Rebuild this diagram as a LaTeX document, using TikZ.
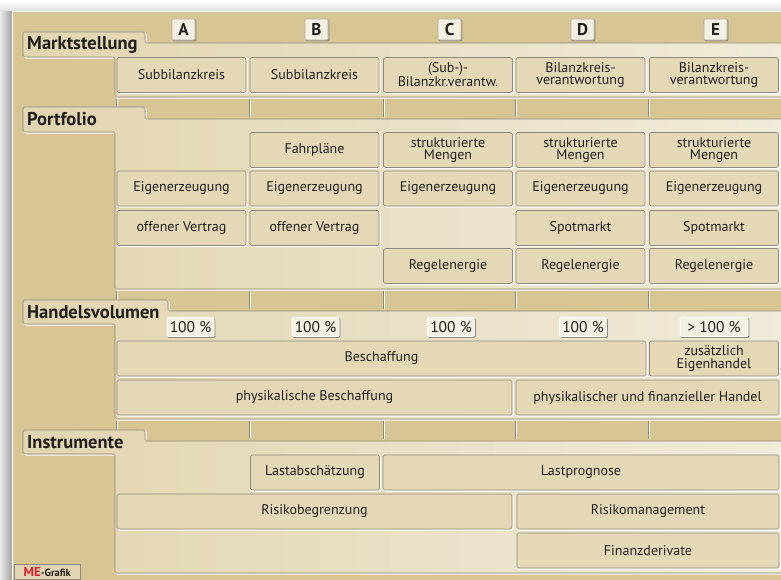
\documentclass[tikz,border=0pt]{standalone}
\usepackage{fontspec}
\setmainfont{PT Sans}
\definecolor{tan}{HTML}{D8C594}
\definecolor{creamL}{HTML}{E2D5B1}
\definecolor{creamR}{HTML}{F1EBDA}
\definecolor{cellfill}{HTML}{E4D8B7}
\definecolor{edge}{HTML}{8F897D}
\definecolor{ink}{HTML}{221E1C}
\definecolor{tagfill}{HTML}{F4F0E3}
\definecolor{mered}{HTML}{D8232A}

\begin{document}
\begin{tikzpicture}[
  x=1pt, y=-1pt,
  cell/.style={fill=cellfill, draw=edge, line width=0.6pt, rounded corners=1.5pt,
    minimum width=129pt, minimum height=35pt, inner sep=0pt, align=center,
    font=\fontsize{14}{12.8}\selectfont, text=ink,
    preaction={draw=white, fill=none, line width=1.4pt, transform canvas={shift={(1,1)}}}},
  wide/.style={minimum width=#1pt},
  tag/.style={fill=tagfill, draw=white, line width=0.6pt, rounded corners=1pt,
    inner sep=0pt, minimum width=47pt, minimum height=19pt, text=ink,
    font=\fontsize{15.5}{15}\selectfont,
    preaction={draw=edge, fill=none, line width=1pt, transform canvas={shift={(0.8,0.8)}}}},
  letter/.style={tag, minimum width=23pt, minimum height=21pt, draw=edge!70,
    font=\fontsize{17}{17}\selectfont\bfseries},
  tab/.style={anchor=west, inner sep=0pt, text=ink,
    font=\fontsize{18.5}{19}\selectfont\bfseries},
  area/.style={left color=creamL, right color=creamR, draw=edge, line width=0.6pt,
    rounded corners=1.5pt,
    preaction={draw=white, fill=none, line width=1.2pt, transform canvas={shift={(1,1)}}}},
  tick/.style={draw=edge, line width=0.6pt}
]
  \useasboundingbox (0,0) rectangle (781,580);
  % frame and shadow
  \shade[top color=white, bottom color=gray!25] (0,0) rectangle (790,12);
  \shade[left color=gray!15, right color=gray!75] (0,12) rectangle (12,590);
  \fill[tan] (12,12) rectangle (790,590);
  \draw[white, line width=1pt] (12,590) -- (12,12) -- (790,12);

  % column ticks between the sections
  \foreach \ya/\yb in {97/119, 289/311, 419/441}
    \foreach \x in {116,249,383,515,648} {
      \draw[white, line width=0.8pt] ({\x+1},{\ya+2}) -- ({\x+1},{\yb-2});
      \draw[tick] (\x,{\ya+2}) -- (\x,{\yb-2});
    }

  % section areas with tabs
  \path[area] (23,32) -- (145,32) -- (145,43) -- (790,43) -- (790,97)
    -- (115,97) -- (115,57) -- (23,57) -- cycle;
  \path[area] (23,107) -- (145,107) -- (145,119) -- (790,119) -- (790,289)
    -- (115,289) -- (115,132) -- (23,132) -- cycle;
  \path[area] (23,300) -- (168,300) -- (168,311) -- (790,311) -- (790,419)
    -- (115,419) -- (115,324) -- (23,324) -- cycle;
  \path[area] (23,430) -- (145,430) -- (145,441) -- (790,441) -- (790,573)
    -- (115,573) -- (115,454) -- (23,454) -- cycle;
  \node[tab] (tMarkt) at (27,44.5) {Marktstellung};
  \node[tab] (tPort) at (27,119.5) {Portfolio};
  \node[tab] (tHandel) at (27,312) {Handelsvolumen};
  \node[tab] (tInstr) at (27,442) {Instrumente};

  % column letters
  \node[letter] (colA) at (183.5,29.5) {A};
  \node[letter] (colB) at (316.5,29.5) {B};
  \node[letter] (colC) at (449.5,29.5) {C};
  \node[letter] (colD) at (582.5,29.5) {D};
  \node[letter] (colE) at (715.5,29.5) {E};

  % Marktstellung
  \node[cell] (mA) at (181.5,75) {Subbilanzkreis};
  \node[cell] (mB) at (314.5,75) {Subbilanzkreis};
  \node[cell] (mC) at (448,75) {(Sub-)-\\Bilanzkr.verantw.};
  \node[cell] (mD) at (580.5,75) {Bilanzkreis-\\verantwortung};
  \node[cell] (mE) at (714,75) {Bilanzkreis-\\verantwortung};

  % Portfolio
  \node[cell] (fB) at (314.5,150) {Fahrpläne};
  \node[cell] (fC) at (448,150) {strukturierte\\Mengen};
  \node[cell] (fD) at (580.5,150) {strukturierte\\Mengen};
  \node[cell] (fE) at (714,150) {strukturierte\\Mengen};
  \node[cell] (eA) at (181.5,188.5) {Eigenerzeugung};
  \node[cell] (eB) at (314.5,188.5) {Eigenerzeugung};
  \node[cell] (eC) at (448,188.5) {Eigenerzeugung};
  \node[cell] (eD) at (580.5,188.5) {Eigenerzeugung};
  \node[cell] (eE) at (714,188.5) {Eigenerzeugung};
  \node[cell] (oA) at (181.5,228) {offener Vertrag};
  \node[cell] (oB) at (314.5,228) {offener Vertrag};
  \node[cell] (sD) at (580.5,228) {Spotmarkt};
  \node[cell] (sE) at (714,228) {Spotmarkt};
  \node[cell] (rC) at (448,266) {Regelenergie};
  \node[cell] (rD) at (580.5,266) {Regelenergie};
  \node[cell] (rE) at (714,266) {Regelenergie};

  % Handelsvolumen
  \node[tag] (pA) at (190.5,327) {100 \%};
  \node[tag] (pB) at (315.5,327) {100 \%};
  \node[tag] (pC) at (451,327) {100 \%};
  \node[tag] (pD) at (583,327) {100 \%};
  \node[tag, minimum width=68pt] (pE) at (714,327) {> 100 \%};
  \node[cell, wide=529] (besch) at (381.5,358.5) {Beschaffung};
  \node[cell] (zus) at (714,358.5) {zusätzlich\\Eigenhandel};
  \node[cell, wide=395] (phys) at (314.5,397.5) {physikalische Beschaffung};
  \node[cell, wide=263] (fin) at (647.5,397.5) {physikalischer und finanzieller Handel};

  % Instrumente
  \node[cell] (last) at (315,472.5) {Lastabschätzung};
  \node[cell, wide=396] (prog) at (581,472.5) {Lastprognose};
  \node[cell, wide=395] (rbeg) at (314.5,511.5) {Risikobegrenzung};
  \node[cell, wide=262] (rman) at (648,511.5) {Risikomanagement};
  \node[cell, wide=262] (deriv) at (648,550.5) {Finanzderivate};

  % logo
  \node[anchor=north west, fill=creamL, draw=edge, line width=0.5pt, inner sep=1pt,
    minimum width=66pt, minimum height=15pt] (logo) at (14,564)
    {\fontsize{13}{13}\selectfont\bfseries\color{mered}ME\color{ink}\fontsize{10.5}{11}\selectfont-Grafik};
\end{tikzpicture}
\end{document}
